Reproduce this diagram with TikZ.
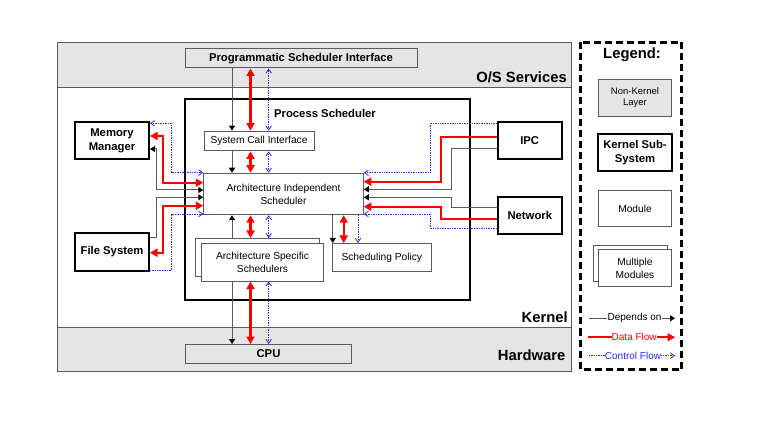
\documentclass[tikz,border=0pt]{standalone}
\usepackage{fontspec}
\setmainfont{Liberation Sans}
\usetikzlibrary{arrows.meta}
\definecolor{bandgray}{RGB}{229,229,229}
\definecolor{linegray}{RGB}{90,90,90}
\definecolor{ctrlblue}{RGB}{40,40,255}
\definecolor{datared}{RGB}{255,0,0}
\tikzset{
  module/.style={draw=linegray, line width=1pt, fill=white, inner sep=0pt, align=center, font=\fontsize{10.2}{13}\selectfont},
  layerbox/.style={module, fill=bandgray},
  subsystem/.style={draw=black, line width=2pt, fill=white, inner sep=0pt, align=center, font=\fontsize{11.3}{13.5}\selectfont\bfseries},
  layerlabel/.style={anchor=east, inner sep=0pt, font=\fontsize{14.8}{17}\selectfont\bfseries},
  dep/.style={draw=linegray, line width=1pt, >={Triangle[length=5pt,width=6pt,color=black]}},
  data/.style={draw=datared, line width=2.3pt, >={Triangle[length=7.5pt,width=8pt]}},
  ctrl/.style={draw=ctrlblue, line width=0.8pt, dash pattern=on 0.8pt off 0.9pt, >={Straight Barb[length=4pt,width=5.5pt]}},
  legtext/.style={inner sep=0pt, font=\fontsize{10}{12}\selectfont}
}
\begin{document}
\begin{tikzpicture}[x=1pt,y=-1pt]
      \fill[white] (0,0) rectangle (765,427);
      \fill[bandgray] (57.5,42.5) rectangle (571,87.5);
      \fill[bandgray] (57.5,327) rectangle (571,371);
      \draw[linegray] (57.5,87.5) -- (571,87.5);
      \draw[linegray] (57.5,327) -- (571,327);
      \draw[linegray, line width=1pt] (57.5,42.5) rectangle (571,371);
      \node[layerlabel] (ossvc) at (567,77.5) {O/S Services};
      \node[layerlabel] (kernel) at (568,317.5) {Kernel};
      \node[layerlabel] (hw) at (565.5,355) {Hardware};

      \node[layerbox, minimum width=232pt, minimum height=19pt, font=\fontsize{11.3}{13.5}\selectfont\bfseries] (psi) at (301,58.5) {Programmatic Scheduler Interface};
      \node[layerbox, minimum width=166pt, minimum height=19pt, font=\fontsize{11.3}{13.5}\selectfont\bfseries] (cpu) at (268.5,354) {CPU};
      \node[subsystem, minimum width=285pt, minimum height=200.5pt] (ps) at (327.5,199.6) {};
      \node[inner sep=0pt, font=\fontsize{11.3}{13.5}\selectfont\bfseries] (pstitle) at (325,113.5) {Process Scheduler};
      \node[module, minimum width=110pt, minimum height=19.7pt] (sci) at (259,141) {System Call Interface};
      \node[module, minimum width=159.5pt, minimum height=41.5pt] (ais) at (283.5,194) {Architecture Independent\\Scheduler};
      \node[module, minimum width=124pt, minimum height=38pt] (assb) at (257.5,257.5) {};
      \node[module, minimum width=122pt, minimum height=37.5pt] (ass) at (262.5,262.3) {Architecture Specific\\Schedulers};
      \node[module, minimum width=99pt, minimum height=28pt] (sp) at (381.8,257.5) {Scheduling Policy};
      \node[subsystem, minimum width=74pt, minimum height=36.7pt] (mm) at (112,140.7) {Memory\\Manager};
      \node[subsystem, minimum width=74pt, minimum height=38pt] (fs) at (112,251.7) {File System};
      \node[subsystem, minimum width=64pt, minimum height=36.7pt] (ipc) at (529.7,140.7) {IPC};
      \node[subsystem, minimum width=64pt, minimum height=37pt] (net) at (529.8,215.2) {Network};

      \draw[dep,->] (psi.south -| 232,0) -- (sci.north -| 232,0);
      \draw[data,<->] (psi.south -| 250.5,0) -- (sci.north -| 250.5,0);
      \draw[ctrl,<->] (psi.south -| 268.7,0) -- (sci.north -| 268.7,0);
      \draw[dep,->] (sci.south -| 232,0) -- (ais.north -| 232,0);
      \draw[data,<->] (sci.south -| 250.5,0) -- (ais.north -| 250.5,0);
      \draw[ctrl,<->] (sci.south -| 268.7,0) -- (ais.north -| 268.7,0);
      \draw[dep,->] (assb.north -| 232,0) -- (ais.south -| 232,0);
      \draw[data,<->] (ais.south -| 250.5,0) -- (assb.north -| 250.5,0);
      \draw[ctrl,<->] (ais.south -| 268.7,0) -- (assb.north -| 268.7,0);
      \draw[dep,->] (ass.south -| 232,0) -- (cpu.north -| 232,0);
      \draw[data,<->] (ass.south -| 250.5,0) -- (cpu.north -| 250.5,0);
      \draw[ctrl,<->] (ass.south -| 268.7,0) -- (cpu.north -| 268.7,0);
      \draw[dep,->] (ais.south -| 332.8,0) -- (sp.north -| 332.8,0);
      \draw[data,<->] (ais.south -| 343.7,0) -- (sp.north -| 343.7,0);
      \draw[ctrl,->] (ais.south -| 358,0) -- (sp.north -| 358,0);

      \draw[ctrl,<->] (mm.east |- 0,123.3) -| (171.7,172.7) -- (ais.west |- 0,172.7);
      \draw[data,<->] (mm.east |- 0,136) -| (162.7,182.7) -- (ais.west |- 0,182.7);
      \draw[dep,<->] (mm.east |- 0,149) -| (156,190) -- (ais.west |- 0,190);
      \draw[dep,->] (fs.east |- 0,237.7) -| (156,197.3) -- (ais.west |- 0,197.3);
      \draw[data,<->] (fs.east |- 0,252.7) -| (162.7,205.7) -- (ais.west |- 0,205.7);
      \draw[ctrl,->] (fs.east |- 0,270.7) -| (171.7,214) -- (ais.west |- 0,214);
      \draw[ctrl,->] (ipc.west |- 0,123.3) -| (430,172.7) -- (ais.east |- 0,172.7);
      \draw[data,->] (ipc.west |- 0,137.3) -| (440.7,181.7) -- (ais.east |- 0,181.7);
      \draw[dep,->] (ipc.west |- 0,148.3) -| (451.7,189.3) -- (ais.east |- 0,189.3);
      \draw[dep,->] (net.west |- 0,207.3) -| (451.7,197.3) -- (ais.east |- 0,197.3);
      \draw[data,->] (net.west |- 0,219.3) -| (440.7,206.7) -- (ais.east |- 0,206.7);
      \draw[ctrl,->] (net.west |- 0,228.3) -| (430,214) -- (ais.east |- 0,214);

      \draw[black, line width=2.2pt, dash pattern=on 7pt off 4pt] (580.5,42.5) rectangle (681.5,369.5);
      \node[inner sep=0pt, font=\fontsize{14.8}{17}\selectfont\bfseries] (legend) at (632,55) {Legend:};
      \node[layerbox, minimum width=73.5pt, minimum height=36.7pt, font=\fontsize{9.5}{11}\selectfont] (lnk) at (635,97.7) {Non-Kernel\\Layer};
      \node[subsystem, minimum width=73.5pt, minimum height=36.7pt] (lks) at (635,152.7) {Kernel Sub-\\System};
      \node[module, minimum width=73.5pt, minimum height=36.7pt] (lmod) at (635,208.4) {Module};
      \node[module, minimum width=74.5pt, minimum height=36.7pt] (lmultb) at (630.5,263.4) {};
      \node[module, minimum width=73.5pt, minimum height=37.7pt] (lmult) at (635,267.9) {Multiple\\Modules};

      \coordinate (ldepl) at (589,318.3);
      \coordinate (ldepr) at (675,318.3);
      \node[legtext] (ldep) at (634.5,318.3) {Depends on};
      \draw[dep] (ldepl) -- (ldep.west);
      \draw[dep,->] (ldep.east) -- (ldepr);
      \coordinate (ldatal) at (588.3,337.3);
      \coordinate (ldatar) at (675,337.3);
      \node[legtext, text=datared] (ldata) at (634.2,337.3) {Data Flow};
      \draw[data, line width=2pt] (ldatal) -- (ldata.west);
      \draw[data, line width=2pt, ->] (ldata.east) -- (ldatar);
      \coordinate (lctrll) at (589,355.7);
      \coordinate (lctrlr) at (675,355.7);
      \node[legtext, text=ctrlblue] (lctrl) at (633,355.7) {Control Flow};
      \draw[ctrl] (lctrll) -- (lctrl.west);
      \draw[ctrl,->] (lctrl.east) -- (lctrlr);
\end{tikzpicture}
\end{document}
